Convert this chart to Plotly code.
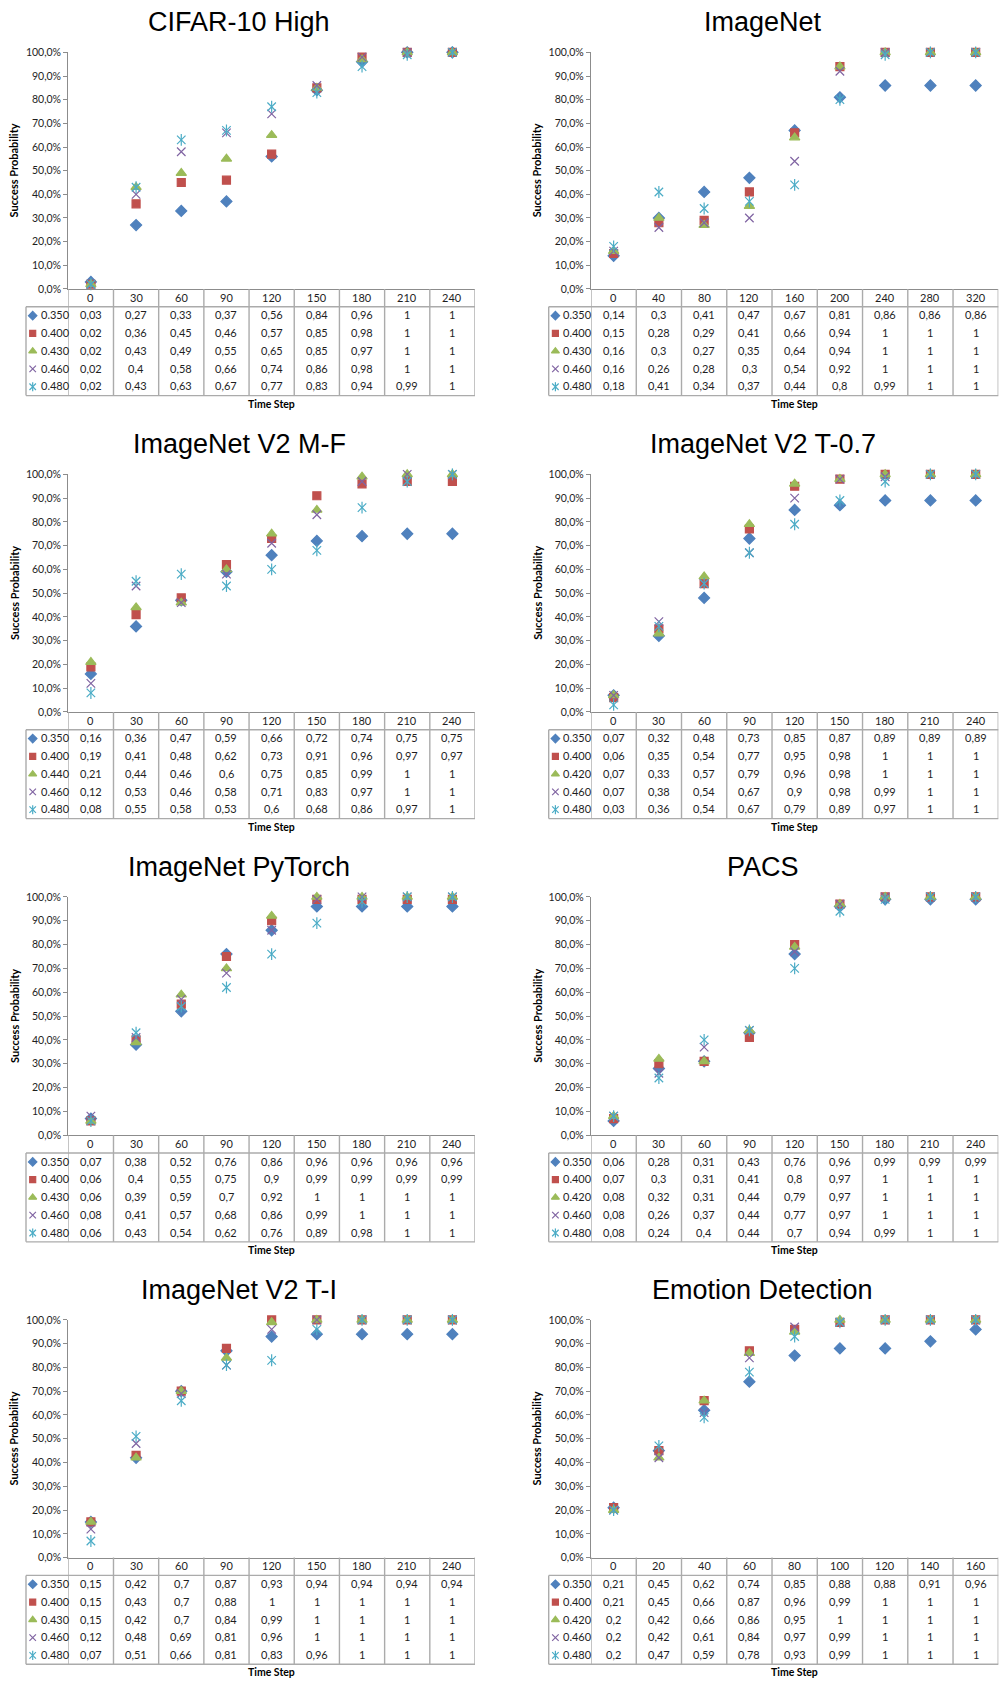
import plotly.graph_objects as go

# ---------------------------------------------------------------- data
steps_30 = [0, 30, 60, 90, 120, 150, 180, 210, 240]
steps_40 = [0, 40, 80, 120, 160, 200, 240, 280, 320]
steps_20 = [0, 20, 40, 60, 80, 100, 120, 140, 160]

thr_430 = ["0.350", "0.400", "0.430", "0.460", "0.480"]
thr_440 = ["0.350", "0.400", "0.440", "0.460", "0.480"]
thr_420 = ["0.350", "0.400", "0.420", "0.460", "0.480"]

cifar_values = [
    [0.03, 0.27, 0.33, 0.37, 0.56, 0.84, 0.96, 1, 1],
    [0.02, 0.36, 0.45, 0.46, 0.57, 0.85, 0.98, 1, 1],
    [0.02, 0.43, 0.49, 0.55, 0.65, 0.85, 0.97, 1, 1],
    [0.02, 0.4, 0.58, 0.66, 0.74, 0.86, 0.98, 1, 1],
    [0.02, 0.43, 0.63, 0.67, 0.77, 0.83, 0.94, 0.99, 1],
]
imagenet_values = [
    [0.14, 0.3, 0.41, 0.47, 0.67, 0.81, 0.86, 0.86, 0.86],
    [0.15, 0.28, 0.29, 0.41, 0.66, 0.94, 1, 1, 1],
    [0.16, 0.3, 0.27, 0.35, 0.64, 0.94, 1, 1, 1],
    [0.16, 0.26, 0.28, 0.3, 0.54, 0.92, 1, 1, 1],
    [0.18, 0.41, 0.34, 0.37, 0.44, 0.8, 0.99, 1, 1],
]
v2mf_values = [
    [0.16, 0.36, 0.47, 0.59, 0.66, 0.72, 0.74, 0.75, 0.75],
    [0.19, 0.41, 0.48, 0.62, 0.73, 0.91, 0.96, 0.97, 0.97],
    [0.21, 0.44, 0.46, 0.6, 0.75, 0.85, 0.99, 1, 1],
    [0.12, 0.53, 0.46, 0.58, 0.71, 0.83, 0.97, 1, 1],
    [0.08, 0.55, 0.58, 0.53, 0.6, 0.68, 0.86, 0.97, 1],
]
v2t07_values = [
    [0.07, 0.32, 0.48, 0.73, 0.85, 0.87, 0.89, 0.89, 0.89],
    [0.06, 0.35, 0.54, 0.77, 0.95, 0.98, 1, 1, 1],
    [0.07, 0.33, 0.57, 0.79, 0.96, 0.98, 1, 1, 1],
    [0.07, 0.38, 0.54, 0.67, 0.9, 0.98, 0.99, 1, 1],
    [0.03, 0.36, 0.54, 0.67, 0.79, 0.89, 0.97, 1, 1],
]
pytorch_values = [
    [0.07, 0.38, 0.52, 0.76, 0.86, 0.96, 0.96, 0.96, 0.96],
    [0.06, 0.4, 0.55, 0.75, 0.9, 0.99, 0.99, 0.99, 0.99],
    [0.06, 0.39, 0.59, 0.7, 0.92, 1, 1, 1, 1],
    [0.08, 0.41, 0.57, 0.68, 0.86, 0.99, 1, 1, 1],
    [0.06, 0.43, 0.54, 0.62, 0.76, 0.89, 0.98, 1, 1],
]
pacs_values = [
    [0.06, 0.28, 0.31, 0.43, 0.76, 0.96, 0.99, 0.99, 0.99],
    [0.07, 0.3, 0.31, 0.41, 0.8, 0.97, 1, 1, 1],
    [0.08, 0.32, 0.31, 0.44, 0.79, 0.97, 1, 1, 1],
    [0.08, 0.26, 0.37, 0.44, 0.77, 0.97, 1, 1, 1],
    [0.08, 0.24, 0.4, 0.44, 0.7, 0.94, 0.99, 1, 1],
]
v2ti_values = [
    [0.15, 0.42, 0.7, 0.87, 0.93, 0.94, 0.94, 0.94, 0.94],
    [0.15, 0.43, 0.7, 0.88, 1, 1, 1, 1, 1],
    [0.15, 0.42, 0.7, 0.84, 0.99, 1, 1, 1, 1],
    [0.12, 0.48, 0.69, 0.81, 0.96, 1, 1, 1, 1],
    [0.07, 0.51, 0.66, 0.81, 0.83, 0.96, 1, 1, 1],
]
emotion_values = [
    [0.21, 0.45, 0.62, 0.74, 0.85, 0.88, 0.88, 0.91, 0.96],
    [0.21, 0.45, 0.66, 0.87, 0.96, 0.99, 1, 1, 1],
    [0.2, 0.42, 0.66, 0.86, 0.95, 1, 1, 1, 1],
    [0.2, 0.42, 0.61, 0.84, 0.97, 0.99, 1, 1, 1],
    [0.2, 0.47, 0.59, 0.78, 0.93, 0.99, 1, 1, 1],
]

panel_titles = ["CIFAR-10 High", "ImageNet", "ImageNet V2 M-F", "ImageNet V2 T-0.7",
                "ImageNet PyTorch", "PACS", "ImageNet V2 T-I", "Emotion Detection"]
panel_steps = [steps_30, steps_40, steps_30, steps_30, steps_30, steps_30, steps_30, steps_20]
panel_thresholds = [thr_430, thr_430, thr_440, thr_420, thr_430, thr_420, thr_430, thr_420]
panel_values = [cifar_values, imagenet_values, v2mf_values, v2t07_values,
                pytorch_values, pacs_values, v2ti_values, emotion_values]

# ---------------------------------------------------------------- style
W, H = 1001, 1690
COLORS = ["#4F81BD", "#C0504D", "#9BBB59", "#8064A2", "#4BACC6"]
SYMBOLS = ["diamond", "square", "triangle-up", "x-thin-open", "x-thin-open"]
SIZES = [8.5, 8, 9, 8.5, 8.5]
AXIS_COLOR = "#8C8C8C"
GRID_COLOR = "#ABABAB"
TEXT_COLOR = "#1E1E1E"
BODY_FONT = "Lato"
TITLE_FONT = "Liberation Sans"

# plot-area boxes in pixels
COL_L = [68.3, 591.0]
COL_R = [475.0, 998.3]
ROW_T = [46.7, 471.7, 897.3, 1323.3]
ROW_B = [285.0, 711.0, 1137.3, 1562.7]
TITLE_CX = [239.0, 762.5]
YTITLE_X = [13.8, 536.7]
ROW_H = 17.9          # table row height
LEG_W = 42.3          # width of the series-name column
LABEL_DX = 29.6       # series name offset left of the plot edge
KEY_DX = 35.6         # legend key offset left of the plot edge
TEXT_LIFT = 0.8       # optical correction for digit-only cell text


def fx(px):
    return px / W


def fy(py):
    return 1 - py / H


def cell_text(v):
    return f"{v:g}".replace(".", ",")


def marker(s, size):
    return dict(symbol=SYMBOLS[s], size=size, color=COLORS[s],
                line=dict(color=COLORS[s], width=1.2))


fig = go.Figure()
layout = dict(
    width=W, height=H, margin=dict(l=0, r=0, t=0, b=0),
    paper_bgcolor="white", plot_bgcolor="rgba(0,0,0,0)",
    separators=", ", showlegend=False,
    font=dict(family=BODY_FONT, color=TEXT_COLOR),
)
annotations = []
shapes = []
key_x, key_y, key_s = [], [], []

for k in range(8):
    r, c = divmod(k, 2)
    L, R, T, B = COL_L[c], COL_R[c], ROW_T[r], ROW_B[r]
    steps = panel_steps[k]
    ncol = len(steps)
    xa, ya = f"x{k + 1}", f"y{k + 1}"
    xkey = "xaxis" if k == 0 else f"xaxis{k + 1}"
    ykey = "yaxis" if k == 0 else f"yaxis{k + 1}"
    layout[xkey] = dict(
        domain=[fx(L), fx(R)], range=[-0.5, ncol - 0.5], anchor=ya,
        showticklabels=False, ticks="", showgrid=False, zeroline=False,
        showline=True, linecolor=AXIS_COLOR, linewidth=1.3,
    )
    layout[ykey] = dict(
        domain=[fy(B), fy(T)], range=[0, 1], anchor=xa,
        tickformat=".1%", tick0=0, dtick=0.1,
        ticks="outside", ticklen=4, tickcolor=AXIS_COLOR, tickwidth=1.2,
        showline=True, linecolor=AXIS_COLOR, linewidth=1.3,
        showgrid=False, zeroline=False,
        tickfont=dict(family=BODY_FONT, size=10.5, color=TEXT_COLOR),
    )

    xs = list(range(ncol))
    for s, vals in enumerate(panel_values[k]):
        row_c = B + ROW_H * (s + 1.5) - TEXT_LIFT
        fig.add_trace(go.Scatter(
            x=xs, y=vals, mode="markers", marker=marker(s, SIZES[s]), cliponaxis=False,
            xaxis=xa, yaxis=ya, name=panel_thresholds[k][s], hoverinfo="skip",
        ))
        if s == 4:
            fig.add_trace(go.Scatter(
                x=xs, y=vals, mode="markers", cliponaxis=False,
                marker=dict(symbol="line-ns-open", size=SIZES[s], color=COLORS[s],
                            line=dict(color=COLORS[s], width=1.2)),
                xaxis=xa, yaxis=ya, hoverinfo="skip",
            ))
        key_x.append(L - KEY_DX)
        key_y.append(B + ROW_H * (s + 1.5))
        key_s.append(s)
        # series name
        annotations.append(dict(
            text=panel_thresholds[k][s], x=fx(L - LABEL_DX), y=fy(row_c),
            xref="paper", yref="paper", xanchor="left", yanchor="middle",
            showarrow=False, font=dict(family=BODY_FONT, size=11, color=TEXT_COLOR),
        ))
        # table values
        for i, v in enumerate(vals):
            annotations.append(dict(
                text=cell_text(v), x=i, y=fy(row_c), xref=xa, yref="paper",
                xanchor="center", yanchor="middle", showarrow=False,
                font=dict(family=BODY_FONT, size=11, color=TEXT_COLOR),
            ))
    # header row with the time steps
    for i, t in enumerate(steps):
        annotations.append(dict(
            text=str(t), x=i, y=fy(B + ROW_H / 2 - TEXT_LIFT), xref=xa, yref="paper",
            xanchor="center", yanchor="middle", showarrow=False,
            font=dict(family=BODY_FONT, size=11, color=TEXT_COLOR),
        ))

    # table grid
    tb = B + ROW_H * 6
    line = dict(color=GRID_COLOR, width=1.4)
    for i in range(ncol + 1):
        shapes.append(dict(type="line", xref=xa, yref="paper",
                           x0=i - 0.5, x1=i - 0.5, y0=fy(B), y1=fy(tb), line=line))
    shapes.append(dict(type="line", xref="paper", yref="paper",
                       x0=fx(L - LEG_W), x1=fx(R), y0=fy(B + ROW_H), y1=fy(B + ROW_H), line=line))
    shapes.append(dict(type="line", xref="paper", yref="paper",
                       x0=fx(L - LEG_W), x1=fx(R), y0=fy(tb), y1=fy(tb), line=line))
    shapes.append(dict(type="line", xref="paper", yref="paper",
                       x0=fx(L - LEG_W), x1=fx(L - LEG_W), y0=fy(B + ROW_H), y1=fy(tb), line=line))

    # titles
    annotations.append(dict(
        text=panel_titles[k], x=fx(TITLE_CX[c]), y=fy(T - 30.5), xref="paper", yref="paper",
        xanchor="center", yanchor="middle", showarrow=False,
        font=dict(family=TITLE_FONT, size=27, color="black"),
    ))
    annotations.append(dict(
        text="<b>Success Probability</b>", x=fx(YTITLE_X[c]), y=fy((T + B) / 2),
        xref="paper", yref="paper", xanchor="center", yanchor="middle",
        textangle=-90, showarrow=False,
        font=dict(family=BODY_FONT, size=11, color="black"),
    ))
    annotations.append(dict(
        text="<b>Time Step</b>", x=fx((L + R) / 2), y=fy(B + 115.5),
        xref="paper", yref="paper", xanchor="center", yanchor="middle",
        showarrow=False, font=dict(family=BODY_FONT, size=10.5, color="black"),
    ))

# legend keys in the series-name column, on a full-page pixel overlay
layout["xaxis9"] = dict(domain=[0, 1], range=[0, W], anchor="y9", visible=False, fixedrange=True)
layout["yaxis9"] = dict(domain=[0, 1], range=[H, 0], anchor="x9", visible=False, fixedrange=True)
for s in range(5):
    xs_k = [x for x, ss in zip(key_x, key_s) if ss == s]
    ys_k = [y for y, ss in zip(key_y, key_s) if ss == s]
    fig.add_trace(go.Scatter(x=xs_k, y=ys_k, mode="markers", marker=marker(s, SIZES[s] - 2),
                             xaxis="x9", yaxis="y9", hoverinfo="skip", cliponaxis=False))
    if s == 4:
        fig.add_trace(go.Scatter(
            x=xs_k, y=ys_k, mode="markers", cliponaxis=False,
            marker=dict(symbol="line-ns-open", size=SIZES[s] - 2, color=COLORS[s],
                        line=dict(color=COLORS[s], width=1.2)),
            xaxis="x9", yaxis="y9", hoverinfo="skip",
        ))

layout["annotations"] = annotations
layout["shapes"] = shapes
fig.update_layout(**layout)
fig.write_html("out.html")
